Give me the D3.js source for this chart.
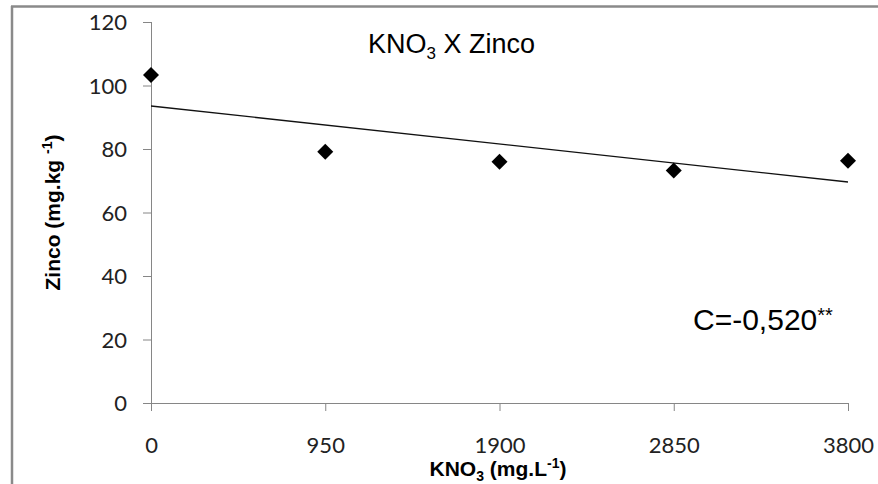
<!DOCTYPE html>
<html>
<head>
<meta charset="utf-8">
<script src="https://cdn.jsdelivr.net/npm/d3@7"></script>
<style>
  body { margin: 0; background: #fff; }
  svg { display: block; }
</style>
</head>
<body>
<svg id="chart" width="878" height="484"></svg>
<script>
// data
var doses = [0, 950, 1900, 2850, 3800];
var zinco = [103.3, 79.1, 76.0, 73.2, 76.3];
var xTicks = [0, 950, 1900, 2850, 3800];
var yTicks = [0, 20, 40, 60, 80, 100, 120];

var W = 878, H = 484;
var pLeft = 151, pRight = 848, pTop = 22, pBottom = 403;

var svg = d3.select("#chart");

// outer frame (only left and top edges show)
svg.append("line")
  .attr("x1", 12).attr("y1", 6).attr("x2", 12).attr("y2", H)
  .style("stroke", "#8a8a8a").style("stroke-width", 2.5);
svg.append("line")
  .attr("x1", 11).attr("y1", 6.5).attr("x2", W).attr("y2", 6.5)
  .style("stroke", "#8a8a8a").style("stroke-width", 2.5);

var x = d3.scaleLinear().domain([0, 3800]).range([pLeft, pRight]);
var y = d3.scaleLinear().domain([0, 120]).range([pBottom, pTop]);

var xAxis = svg.append("g")
  .attr("transform", "translate(0," + pBottom + ")")
  .call(d3.axisBottom(x).tickValues(xTicks).tickSize(8).tickPadding(26).tickFormat(d3.format("d")));
var yAxis = svg.append("g")
  .attr("transform", "translate(" + pLeft + ",0)")
  .call(d3.axisLeft(y).tickValues(yTicks).tickSize(8).tickPadding(16).tickFormat(d3.format("d")));

[xAxis, yAxis].forEach(function(a){
  a.select(".domain").style("stroke", "#868686");
  a.selectAll(".tick line").style("stroke", "#868686");
  a.selectAll("text")
    .style("font-family", "Lato, 'Open Sans', sans-serif")
    .style("font-size", "22px")
    .style("fill", "#222");
});
yAxis.selectAll("text").attr("dy", "0.36em");
// domains without outer ticks
yAxis.select(".domain").attr("d", "M0.5," + pTop + "V" + pBottom);
xAxis.select(".domain").attr("d", "M" + (pLeft - 8) + ",0.5H" + pRight);

// least squares trend line
var mx = d3.mean(doses), my = d3.mean(zinco);
var sxy = d3.sum(doses, function(d, i){ return (d - mx) * (zinco[i] - my); });
var sxx = d3.sum(doses, function(d){ return (d - mx) * (d - mx); });
var slope = sxy / sxx, icpt = my - slope * mx;

svg.append("line")
  .attr("x1", x(0)).attr("y1", y(icpt))
  .attr("x2", x(3800)).attr("y2", y(icpt + slope * 3800))
  .style("stroke", "#111").style("stroke-width", 1.4);

// diamonds
var diamond = d3.symbol().type(d3.symbolSquare).size(128);
svg.append("g").selectAll("path")
  .data(doses)
  .enter().append("path")
  .attr("d", diamond)
  .attr("transform", function(d, i){ return "translate(" + x(d) + "," + y(zinco[i]) + ") rotate(45)"; })
  .style("fill", "#000");

// title
var title = svg.append("text")
  .attr("x", 368).attr("y", 53)
  .style("font-family", "'Liberation Sans', Arial, sans-serif")
  .style("font-size", "27px")
  .style("fill", "#000");
title.append("tspan").text("KNO");
title.append("tspan").attr("dy", 6).style("font-size", "17px").text("3");
title.append("tspan").attr("dy", -6).text(" X Zinco");

// correlation label
var corr = svg.append("text")
  .attr("x", 693).attr("y", 330)
  .style("font-family", "'Liberation Sans', Arial, sans-serif")
  .style("font-size", "30px")
  .style("fill", "#000");
corr.append("tspan").text("C=-0,520");
corr.append("tspan").attr("dy", -8).style("font-size", "20px").text("**");

// x axis title
var xt = svg.append("text")
  .attr("x", 498).attr("y", 476)
  .attr("text-anchor", "middle")
  .style("font-family", "'Liberation Sans', Arial, sans-serif")
  .style("font-size", "21px")
  .style("font-weight", "bold")
  .style("fill", "#000");
xt.append("tspan").text("KNO");
xt.append("tspan").attr("dy", 5).style("font-size", "14px").text("3");
xt.append("tspan").attr("dy", -5).text(" (mg.L");
xt.append("tspan").attr("dy", -8).style("font-size", "14px").text("-1");
xt.append("tspan").attr("dy", 8).text(")");

// y axis title
var yt = svg.append("text")
  .attr("transform", "translate(60," + ((pTop + pBottom) / 2) + ") rotate(-90)")
  .attr("text-anchor", "middle")
  .style("font-family", "'Liberation Sans', Arial, sans-serif")
  .style("font-size", "21px")
  .style("font-weight", "bold")
  .style("fill", "#000");
yt.append("tspan").text("Zinco (mg.kg ");
yt.append("tspan").attr("dy", -8).style("font-size", "14px").text("-1");
yt.append("tspan").attr("dy", 8).text(")");
</script>
</body>
</html>
